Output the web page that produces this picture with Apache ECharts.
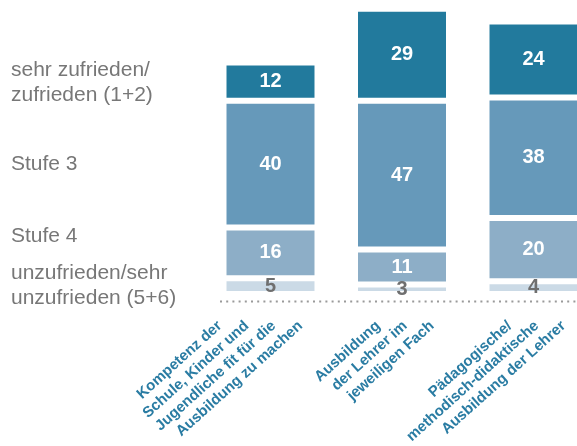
<!DOCTYPE html>
<html>
<head>
<meta charset="utf-8">
<script src="https://cdn.jsdelivr.net/npm/echarts@6/dist/echarts.min.js"></script>
<style>
html,body{margin:0;padding:0;background:#fff;}
#chart{width:577px;height:446px;}
</style>
</head>
<body>
<div id="chart"></div>
<script>
const categories = [
  "Kompetenz der\nSchule, Kinder und\nJugendliche fit für die\nAusbildung zu machen",
  "Ausbildung\nder Lehrer im\njeweiligen Fach",
  "Pädagogische/\nmethodisch-didaktische\nAusbildung der Lehrer"
];
const seriesNames = ["unzufrieden/sehr\nunzufrieden (5+6)", "Stufe 4", "Stufe 3", "sehr zufrieden/\nzufrieden (1+2)"];
const unzufrieden = [5, 3, 4];
const stufe4 = [16, 11, 20];
const stufe3 = [40, 47, 38];
const zufrieden = [12, 29, 24];

const colors = ["#cbdae6", "#8daec7", "#6699ba", "#227a9d"];
const labelColors = ["#6f6f6f", "#ffffff", "#ffffff", "#ffffff"];
const values = [unzufrieden, stufe4, stufe3, zufrieden];

const chart = echarts.init(document.getElementById('chart'));
const series = values.map((d, i) => ({
  name: seriesNames[i],
  type: 'bar',
  stack: 'total',
  data: d,
  barWidth: 94,
  itemStyle: { color: colors[i], borderColor: '#ffffff', borderWidth: 3 },
  label: {
    show: true,
    position: 'inside',
    color: labelColors[i],
    fontFamily: 'Liberation Sans',
    fontWeight: 'bold',
    fontSize: 20
  },
  emphasis: { disabled: true }
}));

const leftText = [
  { text: seriesNames[3], y: 83 },
  { text: seriesNames[2], y: 164 },
  { text: seriesNames[1], y: 236 },
  { text: seriesNames[0], y: 286 }
];

const catFont = { fontFamily: 'Liberation Sans', fontWeight: 'bold', fontSize: 15, lineHeight: 18 };

chart.setOption({
  animation: false,
  grid: { left: 204.75, width: 394.5, top: 8.7, bottom: 152, containLabel: false, outerBoundsMode: 'none' },
  xAxis: {
    type: 'category',
    data: categories,
    axisLine: { show: false },
    axisTick: { show: false },
    axisLabel: {
      interval: 0,
      rotate: 42,
      margin: 69,
      align: 'right',
      verticalAlign: 'bottom',
      hideOverlap: false,
      padding: [0, -48.5, 0, 0],
      formatter: function (v) {
        const lines = v.split('\n');
        const n = lines.length;
        return lines.map((l, i) => {
          const k = n - 1 - i;
          return '{c|' + l + '}' + (k > 0 ? '{s' + k + '| }' : '');
        }).join('\n');
      },
      rich: {
        c: Object.assign({ align: 'right', color: '#2a7ca3' }, catFont),
        s1: Object.assign({ align: 'right', width: 20 }, catFont),
        s2: Object.assign({ align: 'right', width: 40 }, catFont),
        s3: Object.assign({ align: 'right', width: 60 }, catFont)
      }
    }
  },
  yAxis: {
    type: 'value',
    min: 0,
    max: 90,
    show: false,
    splitLine: { show: false }
  },
  series: series,
  graphic: [
    {
      type: 'line',
      z: 100,
      shape: { x1: 220, y1: 301.5, x2: 577, y2: 301.5 },
      style: { stroke: '#9a9a9a', lineWidth: 2, lineDash: [2, 4.2] },
      silent: true
    }
  ].concat(leftText.map(t => ({
    type: 'text',
    x: 11,
    y: t.y,
    style: {
      text: t.text,
      fill: '#777777',
      font: '21px "Liberation Sans"',
      lineHeight: 25,
      verticalAlign: 'middle'
    },
    silent: true
  })))
});
</script>
</body>
</html>
